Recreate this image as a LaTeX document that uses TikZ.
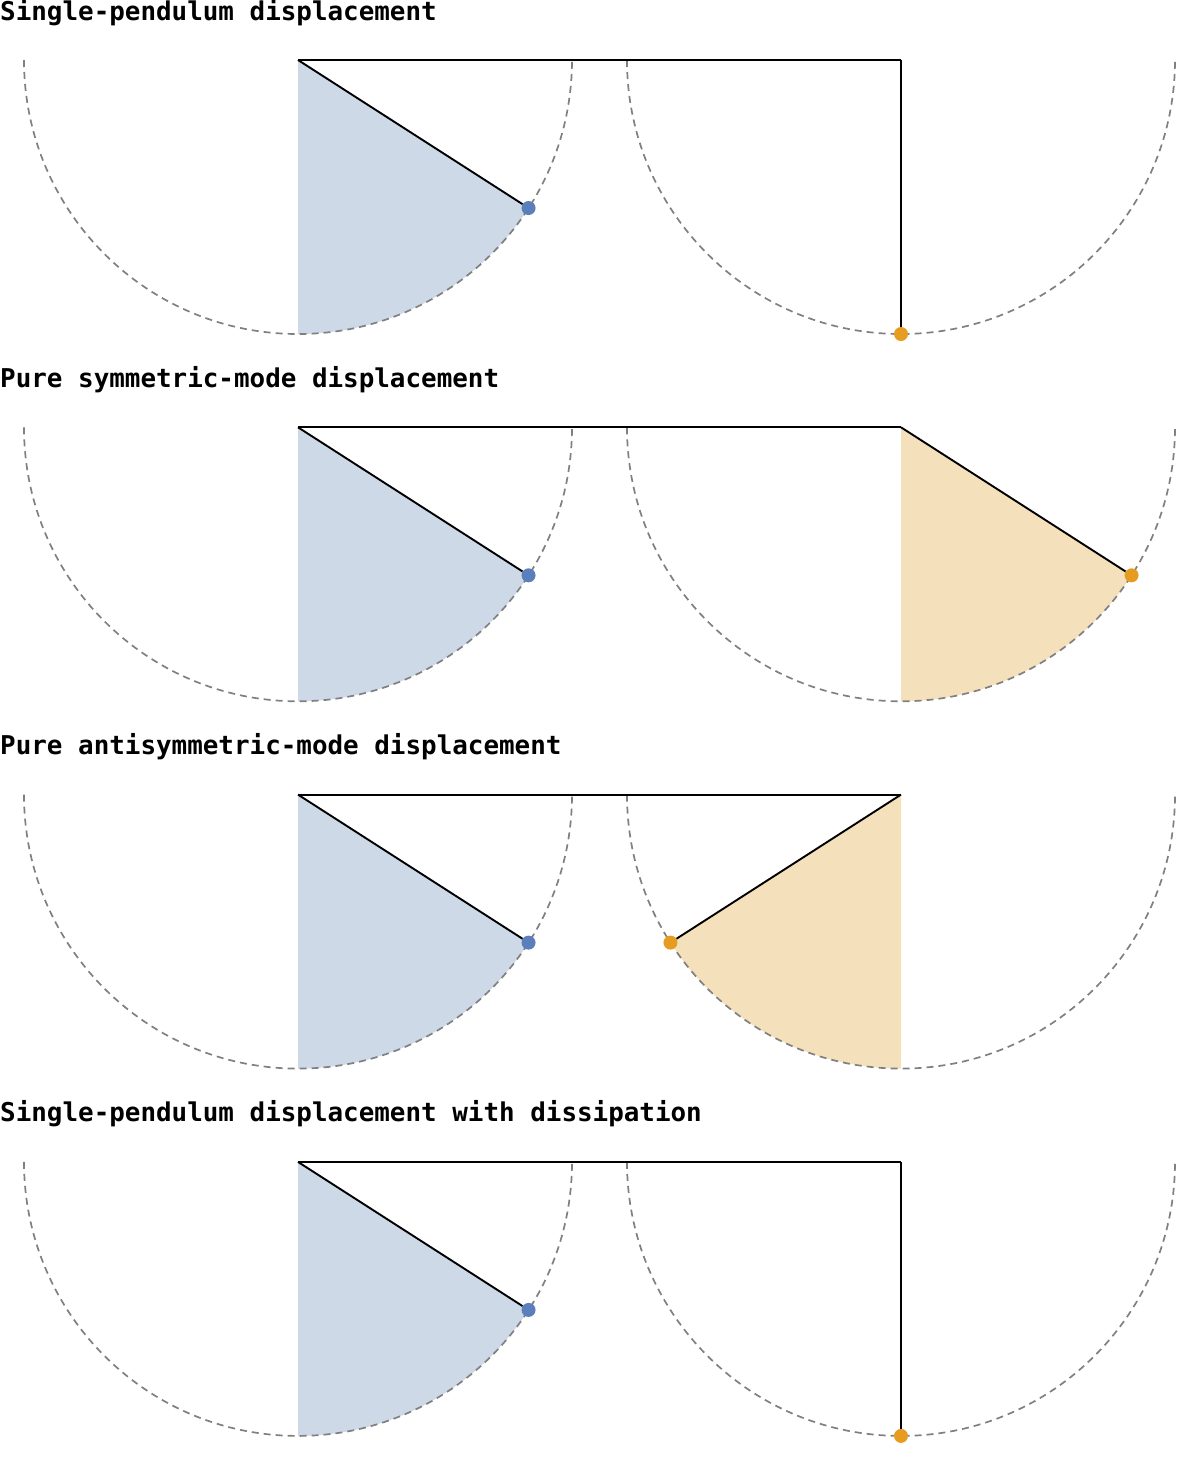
\documentclass[tikz,border=0pt]{standalone}
\usepackage{fontspec}
\setmonofont{DejaVu Sans Mono}
\usepackage{tikz}
\usetikzlibrary{positioning, calc}
\definecolor{bobblue}{RGB}{90,127,187}
\definecolor{sectorblue}{RGB}{205,217,230}
\definecolor{boborange}{RGB}{229,156,32}
\definecolor{sectororange}{RGB}{245,224,188}
\definecolor{guidegray}{RGB}{128,128,128}

\tikzset{
  guide/.style={guidegray, dash pattern=on 7pt off 5pt, line width=1.7pt},
  rod/.style={black, line width=1.9pt},
  bob/.style={circle, inner sep=0pt, minimum size=14pt},
  paneltitle/.style={anchor=base west, inner sep=0pt, font=\ttfamily\bfseries\fontsize{25.9}{30}\selectfont},
}

\begin{document}
\begin{tikzpicture}[x=1pt, y=1pt]
  \useasboundingbox (0,0) rectangle (1200,-1460);
  % one panel per displacement case: title / right pendulum angle
  \foreach \ttl/\ra [count=\i from 0] in {{Single-pendulum displacement}/0,
      {Pure symmetric-mode displacement}/57.3,
      {Pure antisymmetric-mode displacement}/-57.3,
      {Single-pendulum displacement with dissipation}/0} {
    \pgfmathsetmacro{\y}{-60-367.3*\i}
    \coordinate (pL\i) at (298,\y);
    \coordinate (pR\i) at (901,\y);
    \node[paneltitle] (title\i) at (0,{\y+40}) {\ttl};
    % swept sectors
    \fill[sectorblue] (pL\i) -- ++(0,-274) arc[start angle=-90, end angle=-32.7, radius=274] -- cycle;
    \fill[sectororange] (pR\i) -- ++(0,-274) arc[start angle=-90, end angle={-90+\ra}, radius=274] -- cycle;
    % guide circles
    \draw[guide] (pL\i) ++(-274,0) arc[start angle=180, end angle=360, radius=274];
    \draw[guide] (pR\i) ++(-274,0) arc[start angle=180, end angle=360, radius=274];
    % bobs
    \path (pL\i) ++(-32.7:274) node[bob, fill=bobblue] (bL\i) {};
    \path (pR\i) ++({-90+\ra}:274) node[bob, fill=boborange] (bR\i) {};
    % coupling bar and rods
    \draw[rod] (pL\i) -- (pR\i);
    \draw[rod] (pL\i) -- (bL\i);
    \draw[rod] (pR\i) -- (bR\i);
  }
\end{tikzpicture}
\end{document}
